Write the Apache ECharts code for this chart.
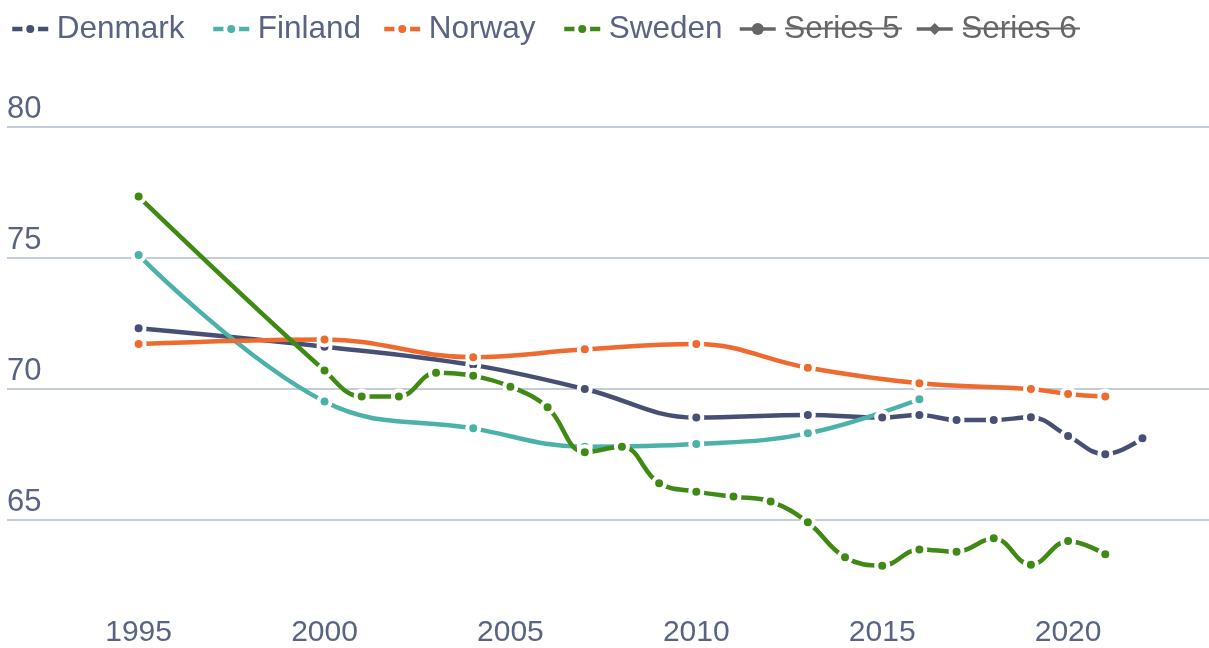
<!DOCTYPE html>
<html><head><meta charset="utf-8">
<script src="https://cdn.jsdelivr.net/npm/echarts@6/dist/echarts.min.js"></script>
<style>html,body{margin:0;padding:0;background:#fff}#c{width:1209px;height:648px}</style>
</head><body><div id="c"></div>
<script>
const denmarkYears = [1995,2000,2004,2007,2010,2013,2015,2016,2017,2018,2019,2020,2021,2022];
const denmarkValues = [72.31,71.61,70.91,70.00,68.91,69.01,68.91,69.01,68.82,68.82,68.92,68.21,67.51,68.12];
const finlandYears = [1995,2000,2004,2007,2010,2013,2016];
const finlandValues = [75.10,69.52,68.50,67.80,67.90,68.31,69.61];
const norwayYears = [1995,2000,2004,2007,2010,2013,2016,2019,2020,2021];
const norwayValues = [71.71,71.89,71.21,71.51,71.71,70.81,70.22,70.00,69.81,69.71];
const swedenYears = [1995,2000,2001,2002,2003,2004,2005,2006,2007,2008,2009,2010,2011,2012,2013,2014,2015,2016,2017,2018,2019,2020,2021];
const swedenValues = [77.33,70.70,69.71,69.71,70.62,70.50,70.09,69.30,67.59,67.80,66.41,66.09,65.90,65.71,64.92,63.59,63.27,63.89,63.80,64.31,63.30,64.21,63.70];
const xTickLabels = [1995,2000,2005,2010,2015,2020];
const yTickLabels = [65,70,75,80];
const legendNames = ['Denmark', 'Finland', 'Norway', 'Sweden', 'Series 5', 'Series 6'];

const zip = (xs, ys) => xs.map((x, i) => [x, ys[i]]);
const FONT = 'Liberation Sans';
const TEXT = '#5a6482';
const GREY = '#666';

function lineSeries(name, color, xs, ys) {
  return {
    name, type: 'line', data: zip(xs, ys), smooth: 0.4,
    color,
    symbol: 'circle', symbolSize: 12,
    lineStyle: { width: 4.5, color },
    itemStyle: { color, borderColor: '#fff', borderWidth: 4 },
    emphasis: { disabled: true }
  };
}

const legendLefts = [10, 211, 382, 562, 738, 915];
const legends = legendNames.map((n, i) => {
  const inactive = i >= 4;
  return {
    left: legendLefts[i], top: 13, padding: 0, itemWidth: 36, itemHeight: 15,
    selectedMode: false,
    textStyle: { fontSize: 31.5, color: inactive ? GREY : TEXT, fontFamily: FONT, padding: [0, 0, 0, 3.5] },
    itemStyle: inactive ? { borderWidth: 0 } : { borderWidth: 4 },
    lineStyle: { width: inactive ? 3.5 : 4.5 },
    data: [n]
  };
});

const chart = echarts.init(document.getElementById('c'), null, { renderer: 'canvas' });
chart.setOption({
  animation: false,
  backgroundColor: '#fff',
  grid: { left: 7, right: 0, top: 126.5, bottom: 0, containLabel: false },
  legend: legends,
  graphic: [
    { type: 'line', shape: { x1: 785, y1: 28.5, x2: 902, y2: 28.5 }, style: { stroke: GREY, lineWidth: 2 }, z: 100 },
    { type: 'line', shape: { x1: 963, y1: 28.5, x2: 1080, y2: 28.5 }, style: { stroke: GREY, lineWidth: 2 }, z: 100 }
  ],
  xAxis: {
    type: 'value', min: 1991.46, max: 2023.79,
    axisLine: { show: false }, axisTick: { show: false }, splitLine: { show: false },
    axisLabel: { customValues: xTickLabels, inside: true, margin: 0, fontSize: 30, color: TEXT, fontFamily: FONT,
      formatter: v => String(v) }
  },
  yAxis: {
    type: 'value', min: 60.133, max: 80,
    axisLine: { show: false },
    axisTick: { show: false, customValues: yTickLabels },
    splitLine: { lineStyle: { color: '#c5ccd9', width: 2 } },
    axisLabel: { customValues: yTickLabels, inside: true, margin: 0, verticalAlign: 'bottom',
      fontSize: 31, color: TEXT, fontFamily: FONT, padding: [0, 0, 2, 0] }
  },
  series: [
    lineSeries('Denmark', '#484f74', denmarkYears, denmarkValues),
    lineSeries('Finland', '#4ab2a9', finlandYears, finlandValues),
    lineSeries('Norway', '#ef6a2f', norwayYears, norwayValues),
    lineSeries('Sweden', '#3f8a15', swedenYears, swedenValues),
    { name: 'Series 5', type: 'line', data: [], color: GREY, symbol: 'circle', symbolSize: 12, lineStyle: { width: 3.5, color: GREY }, itemStyle: { color: GREY } },
    { name: 'Series 6', type: 'line', data: [], color: GREY, symbol: 'diamond', symbolSize: 12, lineStyle: { width: 3.5, color: GREY }, itemStyle: { color: GREY } }
  ]
});
</script></body></html>
